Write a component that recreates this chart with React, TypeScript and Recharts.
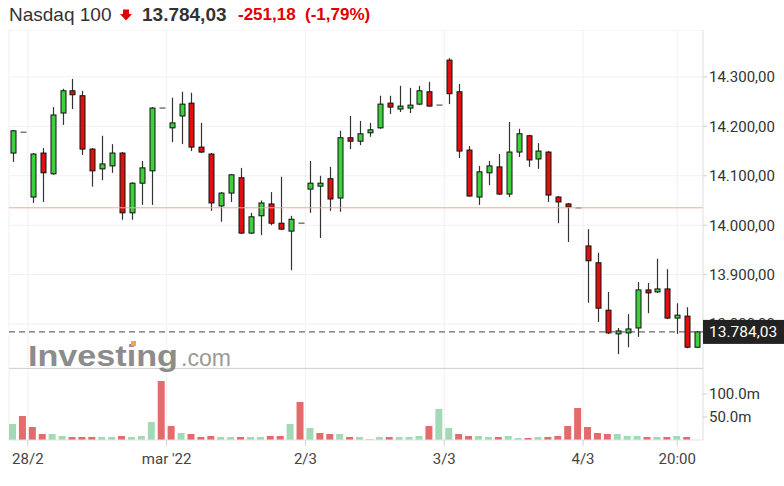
import React from 'react';
import { ComposedChart, Bar, Cell, XAxis, YAxis, CartesianGrid, ReferenceLine } from 'recharts';

// half-hour candles, index 0 = last bar of 25/2
const opens = [
  14146, 14188, 14057, 14146, 14104, 14227, 14272, 14262, 14154, 14114,
  14120, 14146, 14025, 14085, 14110, 14237, 14197, 14221, 14247, 14158,
  14144, 14039, 14065, 14096, 13984, 14019, 14043, 14004, 13988, 14004,
  14073, 14079, 14094, 14055, 14177, 14170, 14187, 14197, 14247, 14235,
  14237, 14245, 14270, 14243, 14334, 14270, 14152, 14057, 14106, 14118,
  14063, 14148, 14181, 14134, 14148, 14057, 14043, 14035.21, 13958, 13924,
  13828, 13780, 13782, 13792, 13869, 13865, 13871, 13812, 13816, 13753,
];
const highs = [
  14192, 14188, 14146, 14156, 14239, 14276, 14296, 14272, 14156, 14181,
  14164, 14148, 14087, 14130, 14239, 14237, 14258, 14270, 14268, 14207,
  14146, 14067, 14103, 14116, 14025, 14050, 14067, 14098, 14019, 14004,
  14130, 14100, 14118, 14191, 14221, 14211, 14207, 14262, 14262, 14282,
  14278, 14282, 14290, 14243, 14338, 14286, 14160, 14120, 14130, 14144,
  14209, 14195, 14183, 14166, 14150, 14059, 14045, 14035.21, 13992, 13944,
  13865, 13792, 13820, 13885, 13883, 13932, 13911, 13842, 13834, 13786,
];
const lows = [
  14128, 14188, 14045, 14047, 14102, 14203, 14235, 14142, 14078, 14091,
  14106, 14011, 14011, 14041, 14041, 14237, 14168, 14164, 14150, 14146,
  14029, 14007, 14047, 13982, 13982, 13980, 14000, 13990, 13909, 14004,
  14025, 13974, 14029, 14027, 14154, 14162, 14179, 14195, 14225, 14229,
  14227, 14243, 14240, 14243, 14245, 14136, 14058, 14041, 14081, 14061,
  14057, 14138, 14118, 14114, 14047, 14004, 13966, 14035.21, 13843, 13804,
  13780, 13739, 13753, 13774, 13822, 13863, 13810, 13780, 13751, 13752,
];
const closes = [
  14191, 14188, 14144, 14106, 14223, 14272, 14264, 14154, 14110, 14124,
  14146, 14025, 14085, 14116, 14237, 14237, 14207, 14245, 14158, 14148,
  14045, 14065, 14102, 13984, 14017, 14045, 14004, 13992, 14012, 14004,
  14085, 14085, 14053, 14177, 14170, 14185, 14193, 14245, 14239, 14241,
  14243, 14272, 14241, 14243, 14266, 14150, 14059, 14108, 14120, 14063,
  14148, 14185, 14132, 14150, 14061, 14047, 14037, 14035.21, 13928, 13832,
  13782, 13786, 13790, 13869, 13863, 13871, 13812, 13818, 13753, 13784.03,
];
// volume in millions
const volumes = [
  34.8, 52.2, 28.3, 13.0, 13.0, 8.7, 6.5, 6.5, 6.5, 6.5,
  6.5, 8.7, 6.5, 8.7, 39.1, 128.3, 30.4, 15.2, 13.0, 6.5,
  8.7, 6.5, 6.5, 6.5, 6.5, 6.5, 8.7, 8.7, 34.8, 82.6,
  26.1, 15.2, 13.0, 13.0, 6.5, 6.5, 2.2, 6.5, 6.5, 6.5,
  6.5, 8.7, 30.4, 67.4, 26.1, 13.0, 8.7, 8.7, 6.5, 6.5,
  8.7, 4.3, 4.3, 6.5, 6.5, 8.7, 30.4, 69.6, 28.3, 15.2,
  13.0, 13.0, 8.7, 8.7, 6.5, 6.5, 6.5, 8.7, 6.5, 0,
];
const volumeUp = [
  1, 0, 0, 0, 1, 1, 0, 0, 0, 1,
  1, 0, 1, 1, 1, 0, 0, 1, 0, 0,
  0, 1, 1, 0, 1, 1, 0, 0, 1, 0,
  1, 0, 0, 1, 0, 1, 1, 1, 0, 1,
  1, 1, 0, 1, 1, 0, 0, 1, 1, 0,
  1, 1, 0, 1, 0, 0, 0, 0, 0, 0,
  0, 1, 1, 1, 0, 1, 0, 1, 0, 1,
];

// session closing prints; a new day starts right after each one
const sessionCloseIdx = [1, 15, 29, 43, 57];
const dayLabels = ['28/2', "mar '22", '2/3', '3/3', '4/3'];
const timeLabelIdx = 67;
const timeLabel = '20:00';

const priceTicks = [13800, 13900, 14000, 14100, 14200, 14300];
const volumeTicks = [50, 100];

const prevClose = 14035.21;
const lastPrice = 13784.03;
const change = -251.18;
const changePct = -1.79;

const data = opens.map((o, i) => ({
  i,
  o,
  h: highs[i],
  l: lows[i],
  c: closes[i],
  vol: volumes[i],
  volUp: volumeUp[i] === 1,
}));

const fmtDe = (v: number) => {
  const [int, dec] = Math.abs(v).toFixed(2).split('.');
  return (v < 0 ? '-' : '') + int.replace(/\B(?=(\d{3})+(?!\d))/g, '.') + ',' + dec;
};

const xTicks = [...sessionCloseIdx.map((i) => i + 0.5), timeLabelIdx];
const xLabels = [...dayLabels, timeLabel];
const xDomain = [-0.4, data.length - 0.4];
const priceDomain = [13711, 14395];
const volDomain = [0, 156.5];

const GREEN = '#3dd13d';
const RED = '#e01010';
const AXIS_FONT = 'Roboto, "Noto Sans", sans-serif';

const Candle = (props: any) => {
  const { x, y, width, height, payload } = props;
  const { o, h, l, c } = payload;
  const cx = Math.round(x + width / 2);
  if (h === l) {
    return <line x1={cx - 2.5} x2={cx + 3.5} y1={y} y2={y} stroke="#777" strokeWidth={1.5} />;
  }
  const k = height / (h - l);
  const yO = y + (h - o) * k;
  const yC = y + (h - c) * k;
  const top = Math.min(yO, yC);
  const bh = Math.max(Math.abs(yO - yC), 2);
  return (
    <g>
      <line x1={cx + 0.5} x2={cx + 0.5} y1={y} y2={y + height} stroke="#333" strokeWidth={1.2} />
      <rect x={cx - 2} y={top} width={5} height={bh} fill={c >= o ? GREEN : RED} stroke="#111" strokeWidth={1} />
    </g>
  );
};

const PriceTag = (props: any) => {
  const { viewBox } = props;
  const x = viewBox.x + viewBox.width;
  return (
    <g>
      <rect x={x} y={viewBox.y - 12} width={81} height={24} fill="#222" />
      <text x={x + 6} y={viewBox.y + 5.5} fill="#fff" fontSize={15.5} fontFamily={AXIS_FONT}>
        {fmtDe(lastPrice)}
      </text>
    </g>
  );
};

const Header = () => (
  <svg width={784} height={30} style={{ position: 'absolute', left: 0, top: 0 }}>
    <g fontFamily='"Liberation Sans", Arial, sans-serif'>
      <text x={9} y={20.5} fontSize={19} fill="#333">Nasdaq 100</text>
      <path d="M123 9.5 h6 v4.5 h3 l-6 6.5 l-6 -6.5 h3 z" fill="#e00000" />
      <text x={142} y={20.5} fontSize={19} fontWeight={700} fill="#333">{fmtDe(lastPrice)}</text>
      <text x={238} y={19.5} fontSize={17} fontWeight={700} fill="#e00000">{fmtDe(change)}</text>
      <text x={305} y={19.5} fontSize={17} fontWeight={700} fill="#e00000">({fmtDe(changePct)}%)</text>
    </g>
  </svg>
);

const Watermark = () => (
  <svg width={784} height={486} style={{ position: 'absolute', left: 0, top: 0, pointerEvents: 'none' }}>
    <g fontFamily='"Liberation Sans", Arial, sans-serif'>
      <text x={28} y={366} fontSize={29} fontWeight={700} fill="#8c8c8c" textLength={150} lengthAdjust="spacingAndGlyphs">
        Investing
      </text>
      <rect x={131} y={341} width={5} height={5} fill="#f2a93b" />
      <text x={181} y={366} fontSize={23} fill="#9a9a9a" textLength={50} lengthAdjust="spacingAndGlyphs">
        .com
      </text>
    </g>
  </svg>
);

export default function App() {
  return (
    <div style={{ position: 'relative', width: 784, height: 486, background: '#fff', overflow: 'hidden' }}>
      <style>{'body{margin:0}'}</style>
      <Header />
      <div style={{ position: 'absolute', left: 0, top: 30 }}>
        <ComposedChart width={784} height={338} data={data} margin={{ top: 0, right: 0, bottom: 0, left: 9 }}>
          <CartesianGrid stroke="#f0f0f0" />
          <XAxis dataKey="i" type="number" domain={xDomain} ticks={xTicks} allowDataOverflow hide />
          <YAxis
            orientation="right"
            width={81}
            domain={priceDomain}
            ticks={priceTicks}
            allowDataOverflow
            tickFormatter={fmtDe}
            tickSize={4}
            tickMargin={2}
            axisLine={{ stroke: '#e6e6e6' }}
            tickLine={{ stroke: '#cfcfcf' }}
            tick={{ fill: '#333', fontSize: 15, fontFamily: AXIS_FONT }}
          />
          <ReferenceLine y={prevClose} stroke="#f4a79b" />
          <Bar dataKey={(d: any) => [d.l, d.h]} barSize={6} shape={<Candle />} isAnimationActive={false} />
        </ComposedChart>
      </div>
      {/* last price line + tag on its own layer so it sits above the axis labels */}
      <div style={{ position: 'absolute', left: 0, top: 30, pointerEvents: 'none' }}>
        <ComposedChart width={784} height={338} data={data} margin={{ top: 0, right: 81, bottom: 0, left: 9 }}>
          <XAxis dataKey="i" type="number" domain={xDomain} allowDataOverflow hide />
          <YAxis domain={priceDomain} allowDataOverflow hide />
          <ReferenceLine y={lastPrice} stroke="#444" strokeDasharray="6 4" label={<PriceTag />} />
        </ComposedChart>
      </div>
      <div style={{ position: 'absolute', left: 0, top: 368 }}>
        <ComposedChart width={784} height={118} data={data} margin={{ top: 0, right: 0, bottom: 0, left: 9 }}>
          <CartesianGrid stroke="#f0f0f0" horizontal={false} />
          <XAxis
            dataKey="i"
            type="number"
            domain={xDomain}
            ticks={xTicks}
            interval={0}
            allowDataOverflow
            height={46}
            tickSize={6}
            tickMargin={7}
            tickFormatter={(v: number) => xLabels[xTicks.indexOf(v)] ?? ''}
            axisLine={{ stroke: '#e3e3e3' }}
            tickLine={{ stroke: '#d5d5d5' }}
            tick={{ fill: '#444', fontSize: 15, fontFamily: AXIS_FONT }}
          />
          <YAxis
            orientation="right"
            width={81}
            domain={volDomain}
            ticks={volumeTicks}
            allowDataOverflow
            tickFormatter={(v: number) => v.toFixed(1) + 'm'}
            tickSize={4}
            tickMargin={2}
            axisLine={{ stroke: '#e6e6e6' }}
            tickLine={{ stroke: '#cfcfcf' }}
            tick={{ fill: '#333', fontSize: 15, fontFamily: AXIS_FONT }}
          />
          <ReferenceLine y={volDomain[1]} stroke="#c4c4c4" strokeWidth={1.5} />
          <Bar dataKey="vol" barSize={7} isAnimationActive={false}>
            {data.map((d) => (
              <Cell key={d.i} fill={d.volUp ? '#a3d9b5' : '#e36b6b'} />
            ))}
          </Bar>
        </ComposedChart>
      </div>
      <Watermark />
    </div>
  );
}
